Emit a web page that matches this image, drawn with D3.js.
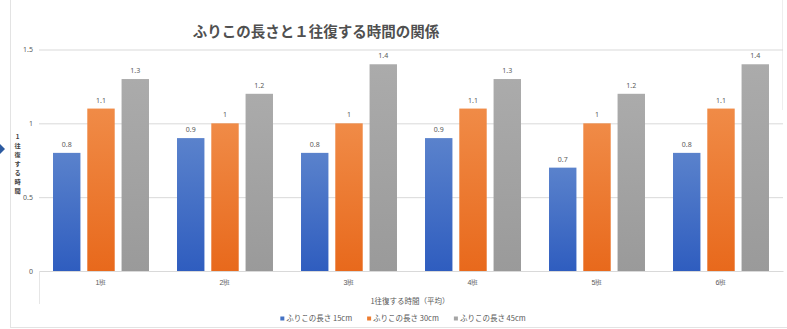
<!DOCTYPE html>
<html lang="ja">
<head>
<meta charset="utf-8">
<script src="https://cdn.jsdelivr.net/npm/d3@7"></script>
<style>
  html, body { margin: 0; padding: 0; background: #fff; }
  svg { display: block; font-family: "Noto Sans CJK JP", "Noto Sans", sans-serif; }
</style>
</head>
<body>
<svg id="chart" width="787" height="329"></svg>
<script>
// 班ごとの、ふりこの長さ別の1往復する時間（平均, 秒）
const groups = ["1班", "2班", "3班", "4班", "5班", "6班"];
const seriesNames = ["ふりこの長さ 15cm", "ふりこの長さ 30cm", "ふりこの長さ 45cm"];
const len15 = [0.8, 0.9, 0.8, 0.9, 0.7, 0.8];
const len30 = [1.1, 1, 1, 1.1, 1, 1.1];
const len45 = [1.3, 1.2, 1.4, 1.3, 1.2, 1.4];
const yTicks = [0, 0.5, 1, 1.5];
const yTickLabels = ["0", "0.5", "1", "1.5"];
const titleText = "ふりこの長さと１往復する時間の関係";
const xTitleText = "1往復する時間（平均）";
const yTitleText = "1往復する時間";

const seriesValues = [len15, len30, len45];
const colors = ["#4472C4", "#ED7D31", "#A5A5A5"];
const gradStops = [["#5a82cc", "#2f5dbf"], ["#f08b47", "#e8691c"], ["#ababab", "#9a9a9a"]];

const svg = d3.select("#chart");
const W = 787, H = 329;
const plot = { left: 39, right: 783, top: 49.5, bottom: 271 };
const textGrey = "#595959";
const lineGrey = "#d9d9d9";

// gradients for bar fills
const defs = svg.append("defs");
gradStops.forEach((s, i) => {
  const g = defs.append("linearGradient").attr("id", "grad" + i)
    .attr("x1", 0).attr("y1", 0).attr("x2", 0).attr("y2", 1);
  g.append("stop").attr("offset", "0%").attr("stop-color", s[0]);
  g.append("stop").attr("offset", "100%").attr("stop-color", s[1]);
});

// outer frame lines
svg.append("line").attr("x1", 10.5).attr("x2", 10.5).attr("y1", 0).attr("y2", 328)
  .attr("stroke", "#e3e3e3").attr("stroke-width", 1);
svg.append("line").attr("x1", 10).attr("x2", W).attr("y1", 327.5).attr("y2", 327.5)
  .attr("stroke", "#e3e3e3").attr("stroke-width", 1);
svg.append("line").attr("x1", 782.5).attr("x2", 782.5).attr("y1", 0).attr("y2", 110)
  .attr("stroke", "#eeeeee").attr("stroke-width", 1);

// small marker at the left edge
svg.append("path").attr("d", "M0,144 L5,149 L0,154 L-5,149 Z").attr("fill", "#2c5aa0");

const x = d3.scaleBand().domain(groups).range([plot.left, plot.right])
  .paddingInner(0.226).paddingOuter(0.113);
const xs = d3.scaleBand().domain(d3.range(3)).range([0, x.bandwidth()]).paddingInner(0.2);
const y = d3.scaleLinear().domain([0, 1.5]).range([plot.bottom, plot.top]);

// gridlines
const grid = svg.append("g").attr("transform", `translate(${plot.left},0)`)
  .call(d3.axisLeft(y).tickValues(yTicks.filter(v => v > 0))
    .tickSize(-(plot.right - plot.left)).tickFormat(""));
grid.select(".domain").remove();
grid.selectAll("line").attr("stroke", lineGrey).attr("stroke-width", 1);

// y tick labels
const yAxis = svg.append("g").attr("transform", `translate(33,0)`)
  .call(d3.axisLeft(y).tickValues(yTicks).tickSize(0).tickPadding(0)
    .tickFormat((d, i) => yTickLabels[i]));
yAxis.select(".domain").remove();
yAxis.selectAll("text").attr("fill", textGrey).style("font-size", "7px")
  .style("font-family", "'Noto Sans', sans-serif");

// bars
const groupSel = svg.append("g").selectAll("g").data(groups).join("g")
  .attr("transform", d => `translate(${x(d)},0)`);
groupSel.each(function (g, gi) {
  const sel = d3.select(this);
  seriesValues.forEach((vals, si) => {
    const v = vals[gi];
    sel.append("rect")
      .attr("x", xs(si)).attr("width", xs.bandwidth())
      .attr("y", y(v)).attr("height", y(0) - y(v))
      .attr("fill", `url(#grad${si})`);
    sel.append("text")
      .attr("x", xs(si) + xs.bandwidth() / 2).attr("y", y(v) - 6)
      .attr("text-anchor", "middle").attr("fill", textGrey)
      .style("font-size", "7px").style("font-family", "'Noto Sans', sans-serif")
      .text(v);
  });
});

// category axis
const xAxis = svg.append("g").attr("transform", `translate(0,${plot.bottom})`)
  .call(d3.axisBottom(x).tickSize(0).tickPadding(9));
xAxis.select(".domain").attr("stroke", lineGrey);
xAxis.selectAll("text").attr("fill", textGrey).style("font-size", "7px");
svg.append("line").attr("x1", plot.left + 0.5).attr("x2", plot.left + 0.5)
  .attr("y1", plot.bottom).attr("y2", 304).attr("stroke", "#e6e6e6");

// title
svg.append("text").attr("x", 316).attr("y", 37).attr("text-anchor", "middle")
  .attr("fill", "#505050").style("font-size", "14.5px").style("font-weight", "bold")
  .text(titleText);

// x-axis title
svg.append("text").attr("x", 410).attr("y", 304).attr("text-anchor", "middle")
  .attr("fill", textGrey).style("font-size", "7.5px").text(xTitleText);

// y-axis title, stacked top to bottom as one text with a tspan per character
svg.append("text").attr("class", "y-title")
  .attr("text-anchor", "middle")
  .attr("fill", "#404040").style("font-size", "6.2px").style("font-weight", "bold")
  .selectAll("tspan").data(Array.from(yTitleText)).join("tspan")
  .attr("x", 17.5).attr("y", (d, i) => 139 + i * 9)
  .text(d => d);

// legend
const legend = svg.append("g");
let lx = 0;
seriesNames.forEach((name, i) => {
  const g = legend.append("g").attr("transform", `translate(${lx},0)`);
  g.append("rect").attr("x", 0).attr("y", -4.5).attr("width", 4).attr("height", 4).attr("fill", colors[i]);
  const t = g.append("text").attr("x", 6).attr("y", 0).attr("fill", textGrey)
    .style("font-size", "7.5px").text(name);
  const w = t.node().getComputedTextLength();
  lx += 6 + w + 15;
});
const totalW = lx - 15;
legend.attr("transform", `translate(${403 - totalW / 2},321)`);
</script>
</body>
</html>
